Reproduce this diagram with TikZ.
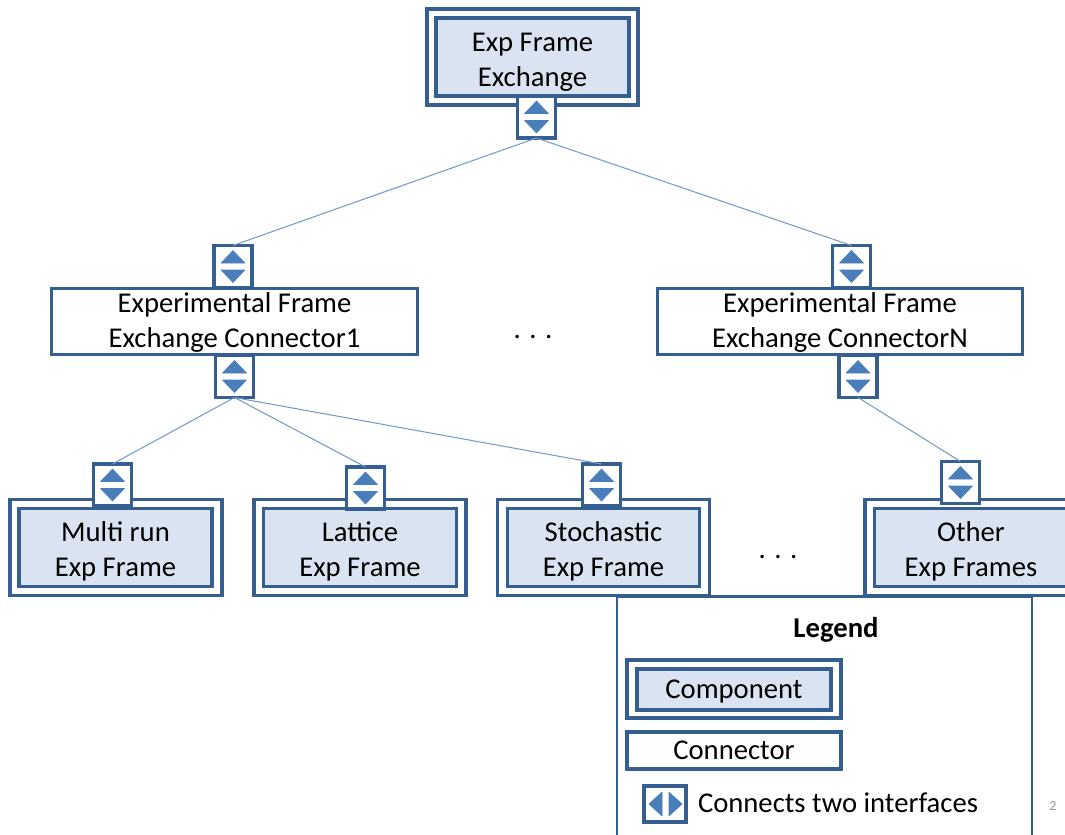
\documentclass[tikz,border=0pt]{standalone}
\usepackage{fontspec}
\setmainfont{Carlito}
\usepackage{tikz}
\definecolor{boxline}{HTML}{355F91}
\definecolor{boxfill}{HTML}{DAE3F1}
\definecolor{tipfill}{HTML}{4A7EBB}
\definecolor{linkline}{HTML}{7A9BC8}
\tikzset{
  every node/.style={inner sep=0pt,outer sep=0pt,align=center,font=\fontsize{21.5}{26.25}\selectfont},
  outerbox/.style={draw=boxline,line width=2.3pt,fill=white},
  innerbox/.style={draw=boxline,line width=2.3pt,fill=boxfill},
  connbox/.style={draw=boxline,line width=2.3pt,fill=white},
  ifacebox/.style={draw=boxline,line width=2.3pt,fill=white,minimum width=28.5pt,minimum height=31.5pt},
  boxtext/.style 2 args={label={[yshift=#1]center:{#2}}},
  link/.style={linkline,line width=0.8pt},
  tip/.style={fill=tipfill,draw=tipfill,line width=0.4pt,line join=round}
}
% interface box with two triangles: name, x, y
\newcommand{\ifacev}[3]{
\node [ifacebox] (#1) at (#2,#3) {};
\fill [tip] (#2-12,#3-3.5) -- (#2,#3-16) -- (#2+12,#3-3.5) -- cycle;
\fill [tip] (#2-12,#3+3.5) -- (#2,#3+16) -- (#2+12,#3+3.5) -- cycle;
}
\begin{document}
\begin{tikzpicture}[x=0.75pt,y=0.75pt]
\useasboundingbox (0,0) rectangle (1065,-835);
% top component
\node [outerbox,minimum width=158.25pt,minimum height=72pt] (topOuter) at (532.5,-57) {};
\node [innerbox,boxtext={-3.75pt}{Exp Frame\\Exchange},minimum width=144.75pt,minimum height=58.5pt] (topInner) at (532.5,-57) {};
\ifacev{ifTop}{536.5}{-117}
% connectors
\node [connbox,boxtext={-1pt}{Experimental Frame\\Exchange Connector1},minimum width=274pt,minimum height=50pt] (connOne) at (234.5,-321.5) {};
\node [connbox,boxtext={-1pt}{Experimental Frame\\Exchange ConnectorN},minimum width=274pt,minimum height=50pt] (connN) at (840,-321.5) {};
\ifacev{ifOneUp}{233}{-266.5}
\ifacev{ifNUp}{851.5}{-266.5}
\ifacev{ifOneDown}{234.5}{-376.5}
\ifacev{ifNDown}{858}{-376.5}
% bottom components
\node [outerbox,minimum width=159pt,minimum height=72pt] (multiOuter) at (116,-547.5) {};
\node [innerbox,boxtext={-3pt}{Multi run\\Exp Frame},minimum width=144.75pt,minimum height=58pt] (multiInner) at (115.5,-547.5) {};
\ifacev{ifMulti}{112.5}{-485}
\node [outerbox,minimum width=159pt,minimum height=72pt] (latOuter) at (360,-547.5) {};
\node [innerbox,boxtext={-3pt}{Lattice\\Exp Frame},minimum width=144.75pt,minimum height=58pt] (latInner) at (360,-547.5) {};
\ifacev{ifLat}{365.5}{-488}
\node [outerbox,minimum width=159pt,minimum height=72pt] (stoOuter) at (603.5,-547.5) {};
\node [innerbox,boxtext={-3pt}{Stochastic\\Exp Frame},minimum width=144pt,minimum height=58pt] (stoInner) at (603.5,-547.5) {};
\ifacev{ifSto}{601.5}{-485}
\node [outerbox,minimum width=159pt,minimum height=72pt] (othOuter) at (971,-547.5) {};
\node [innerbox,boxtext={-3pt}{Other\\Exp Frames},minimum width=145pt,minimum height=58pt] (othInner) at (971,-547.5) {};
\ifacev{ifOth}{960.5}{-482.5}
% links
\draw [link] (ifTop.south) -- (ifOneUp.north);
\draw [link] (ifTop.south) -- (ifNUp.north);
\draw [link] (ifOneDown.south) -- (ifMulti.north);
\draw [link] (ifOneDown.south) -- (ifLat.north);
\draw [link] (ifOneDown.south) -- (ifSto.north);
\draw [link] (ifNDown.south) -- (ifOth.north);
\node (dotsA) at (533,-337) {. . .};
\node (dotsB) at (778,-557) {. . .};
% legend
\node [draw=boxline,line width=1.9pt,fill=white,minimum width=311.25pt,minimum height=181pt] (legend) at (824.5,-717) {};
\draw [boxline,line width=2.3pt] (legend.north west) -- (legend.north east);
\node (legendTitle) at (836,-630) {\bfseries Legend};
\node [outerbox,minimum width=160.5pt,minimum height=43.5pt] (legCompOuter) at (734,-689) {};
\node [innerbox,boxtext={-1.5pt}{Component},minimum width=145.5pt,minimum height=30.75pt] (legCompInner) at (734,-689.5) {};
\node [connbox,minimum width=160.5pt,minimum height=27.75pt] (legConn) at (734,-750.5) {Connector};
\node [ifacebox,minimum width=31.5pt,minimum height=27pt] (legIface) at (665,-804) {};
\fill [tip] (662,-792) -- (662,-816) -- (649,-804) -- cycle;
\fill [tip] (669,-792) -- (669,-816) -- (682,-804) -- cycle;
\node [right=0pt] (legIfaceText) at (698,-803) {Connects two interfaces};
\node [text=gray!80,font=\fontsize{10.5}{12}\selectfont] (pageNum) at (1053,-806) {2};
\end{tikzpicture}
\end{document}
